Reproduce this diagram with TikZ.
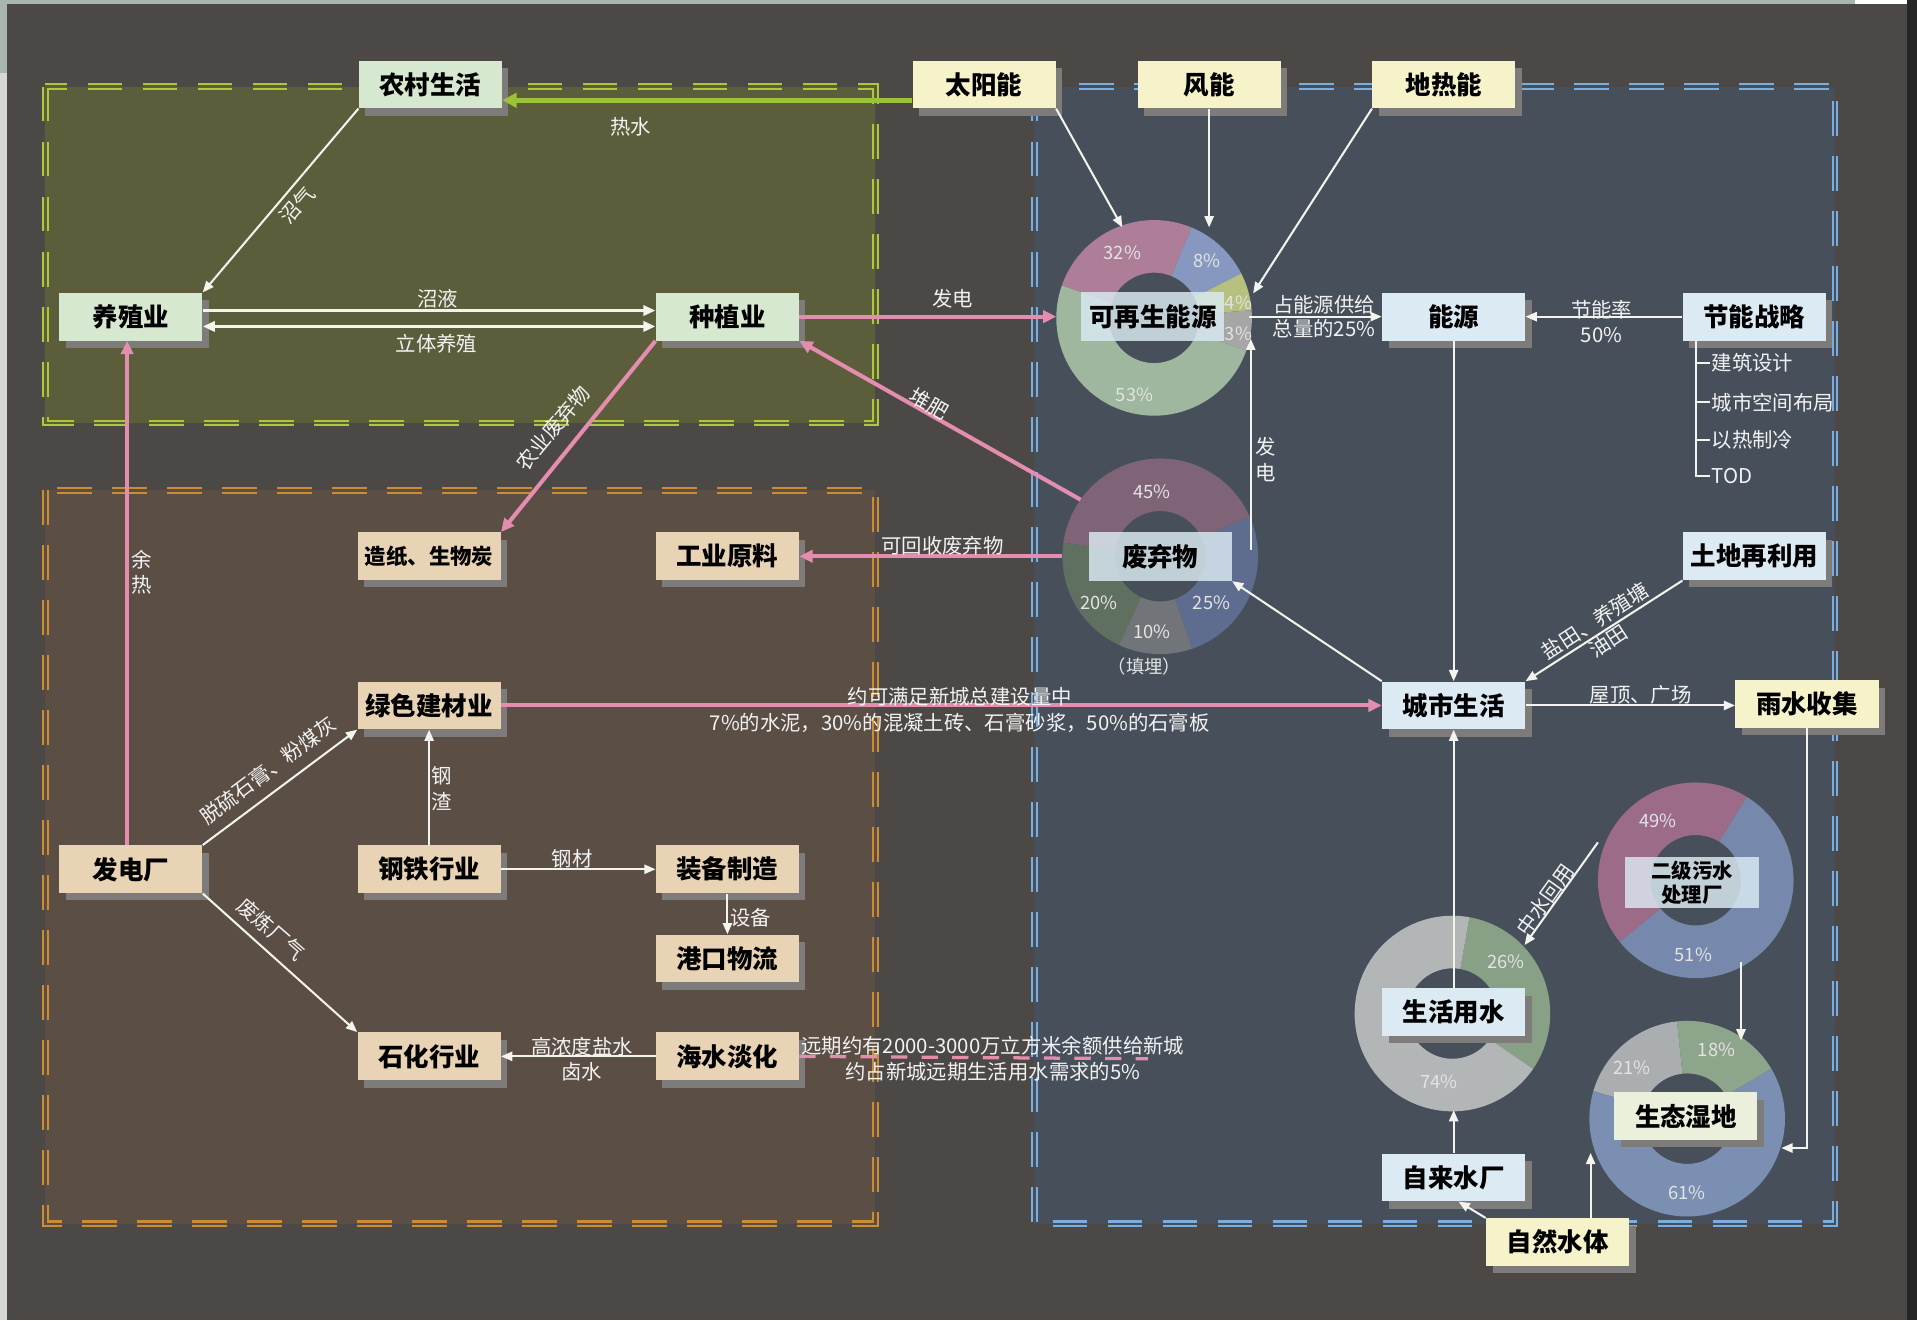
\documentclass[tikz,border=0pt]{standalone}
\usepackage{fontspec}
\setmainfont{Noto Sans CJK SC}
\usetikzlibrary{arrows.meta,shadows,calc}
\definecolor{bgc}{HTML}{4C4846}
\definecolor{stripc}{HTML}{A9B6AE}
\definecolor{leftc}{HTML}{D5D8D5}
\definecolor{greenfill}{HTML}{5C5E3B}
\definecolor{greenedge}{HTML}{ADC83A}
\definecolor{brownfill}{HTML}{5A4E45}
\definecolor{brownedge}{HTML}{CC8C33}
\definecolor{bluefill}{HTML}{47505A}
\definecolor{blueedge}{HTML}{7AADE0}
\definecolor{boxgreen}{HTML}{D6E8D0}
\definecolor{boxyellow}{HTML}{F6F3CB}
\definecolor{boxblue}{HTML}{DCEBF3}
\definecolor{boxtan}{HTML}{E9D3B5}
\definecolor{boxwet}{HTML}{EAF0DC}
\definecolor{shadowc}{HTML}{7E7C7A}
\definecolor{linew}{HTML}{F4F4EE}
\definecolor{pinkc}{HTML}{E58DAE}
\definecolor{limec}{HTML}{9CC23A}
\definecolor{lblc}{HTML}{F2F2F2}
\definecolor{pctc}{HTML}{E3E3E3}
\definecolor{dApink}{HTML}{AE7D97}
\definecolor{dAblue}{HTML}{8798C0}
\definecolor{dAyg}{HTML}{B6C07F}
\definecolor{dAgray}{HTML}{A6A6A6}
\definecolor{dAgreen}{HTML}{9EB79E}
\definecolor{dBpink}{HTML}{7F6376}
\definecolor{dBblue}{HTML}{5E6D8F}
\definecolor{dBgray}{HTML}{717579}
\definecolor{dBgreen}{HTML}{5F7061}
\definecolor{dCpink}{HTML}{9B6B88}
\definecolor{dCblue}{HTML}{7689AD}
\definecolor{dDgray}{HTML}{B3B6B7}
\definecolor{dDgreen}{HTML}{87A086}
\definecolor{dEgreen}{HTML}{8DA68B}
\definecolor{dEgray}{HTML}{AAAEB0}
\definecolor{dEblue}{HTML}{7B8FB3}
\newcommand\dseg[4]{\fill[#4] ([shift={(#2:48pt)}]#1) arc[start angle=#2, end angle=#3, radius=48pt] -- ([shift={(#3:22.2pt)}]#1) arc[start angle=#3, end angle=#2, radius=22.2pt] -- cycle;}
\begin{document}
\begin{tikzpicture}[x=0.6pt,y=-0.6pt,
  box/.style={minimum width=70.2pt, minimum height=23.4pt, inner sep=1pt, text=black,
    font=\bfseries\fontsize{12.5}{14}\selectfont,
    drop shadow={shadow xshift=3.2pt, shadow yshift=-3.6pt, fill=shadowc, opacity=1}},
  gbox/.style={box, fill=boxgreen},
  ybox/.style={box, fill=boxyellow},
  bbox/.style={box, fill=boxblue},
  tbox/.style={box, fill=boxtan},
  glass/.style={minimum width=70.2pt, minimum height=24pt, inner sep=1pt, fill=boxblue,
    fill opacity=0.82, text opacity=1, text=black, font=\bfseries\fontsize{12.5}{14}\selectfont},
  lbl/.style={text=lblc, font=\fontsize{10}{12}\selectfont, inner sep=0.5pt, align=center},
  pct/.style={text=pctc, font=\fontsize{9}{10}\selectfont, inner sep=0pt},
  treetxt/.style={text=lblc, font=\fontsize{10}{12}\selectfont, inner sep=0.5pt, anchor=west},
  wl/.style={draw=linew, line width=1pt, -{Triangle[length=5.5pt,width=4.5pt]}},
  wthick/.style={draw=linew, line width=1.6pt},
  pl/.style={draw=pinkc, line width=2pt, -{Triangle[length=6.5pt,width=6pt]}},
  ll/.style={draw=limec, line width=2.6pt, -{Triangle[length=7pt,width=7pt]}},
  region/.style={line width=1pt, double distance=1.3pt, dash pattern=on 17pt off 10pt}
]
\useasboundingbox (0,0) rectangle (1568,1080);
% background and screenshot edges
\fill[bgc] (0,0) rectangle (1568,1080);
\fill[leftc] (0,0) rectangle (5.5,1080);
\fill[stripc] (0,0) rectangle (6,60);
\fill[stripc] (0,0) rectangle (1517,3.3);
\fill[white] (1517,0) rectangle (1560,3.3);
\fill[black!85] (1560,0) rectangle (1568,1080);
% regions
\draw[region, fill=greenfill, draw=greenedge, double=greenfill] (37,71) rectangle (716,346);
\draw[region, fill=brownfill, draw=brownedge, double=brownfill] (37,401) rectangle (716,1001);
\draw[region, fill=bluefill, draw=blueedge, double=bluefill] (846,71) rectangle (1501,1001);
% donut centres
\coordinate (c1) at (944,260);
\coordinate (c2) at (949,455);
\coordinate (c3) at (1387,720);
\coordinate (c4) at (1188,829);
\coordinate (c5) at (1380,915);
% donut 1: renewable energy
\dseg{c1}{67.5}{160.7}{dApink}
\dseg{c1}{27}{67.5}{dAblue}
\dseg{c1}{4.5}{27}{dAyg}
\dseg{c1}{-19.6}{4.5}{dAgray}
\dseg{c1}{160.7}{340.4}{dAgreen}
% donut 2: waste
\dseg{c2}{24}{172}{dBpink}
\dseg{c2}{-71}{24}{dBblue}
\dseg{c2}{-115}{-71}{dBgray}
\dseg{c2}{172}{245}{dBgreen}
% donut 3: sewage plant
\dseg{c3}{58.5}{219}{dCpink}
\dseg{c3}{219}{418.5}{dCblue}
% donut 4: domestic water
\dseg{c4}{-34.5}{80}{dDgreen}
\dseg{c4}{80}{325.5}{dDgray}
% donut 5: wetland
\dseg{c5}{30.7}{96}{dEgreen}
\dseg{c5}{96}{163.6}{dEgray}
\dseg{c5}{163.6}{390.7}{dEblue}
% percentage labels
\node[pct] (p1a) at (918,207) {32\%};
\node[pct] (p1b) at (987,213) {8\%};
\node[pct] (p1c) at (1013,248) {4\%};
\node[pct] (p1d) at (1013,273) {3\%};
\node[pct] (p1e) at (928,323) {53\%};
\node[pct] (p2a) at (942,402) {45\%};
\node[pct] (p2b) at (899,493) {20\%};
\node[pct] (p2c) at (942,517) {10\%};
\node[pct] (p2d) at (991,493) {25\%};
\node[pct] (p2e) at (936,545) {（填埋）};
\node[pct] (p3a) at (1356,671) {49\%};
\node[pct] (p3b) at (1385,781) {51\%};
\node[pct] (p4a) at (1232,787) {26\%};
\node[pct] (p4b) at (1177,885) {74\%};
\node[pct] (p5a) at (1335,873) {21\%};
\node[pct] (p5b) at (1404,859) {18\%};
\node[pct] (p5c) at (1380,976) {61\%};
% boxes: agriculture
\node[gbox] (nc) at (352,69) {农村生活};
\node[gbox] (yz) at (107,259) {养殖业};
\node[gbox] (zz) at (595,259) {种植业};
% boxes: sources
\node[ybox] (ty) at (805,69) {太阳能};
\node[ybox] (fn) at (989,69) {风能};
\node[ybox] (dr) at (1181,69) {地热能};
\node[ybox] (ys) at (1478,576) {雨水收集};
\node[ybox] (zr) at (1274,1016) {自然水体};
% boxes: city
\node[glass] (kz) at (943,259) {可再生能源};
\node[bbox] (ny) at (1189,259) {能源};
\node[bbox] (jn) at (1435,259) {节能战略};
\node[glass] (fq) at (949,455) {废弃物};
\node[bbox] (td) at (1435,455) {土地再利用};
\node[bbox] (cs) at (1189,577) {城市生活};
\node[glass, minimum width=66pt, minimum height=25.2pt, align=center, font=\bfseries\fontsize{10}{11.5}\selectfont] (ej) at (1384,722) {二级污水\\处理厂};
\node[bbox] (sh) at (1189,828) {生活用水};
\node[box, fill=boxwet] (st) at (1379,913) {生态湿地};
\node[bbox] (zl) at (1189,963) {自来水厂};
% boxes: industry
\node[tbox, font=\bfseries\fontsize{10.5}{12}\selectfont] (zx) at (351,455) {造纸、生物炭};
\node[tbox] (gy) at (595,455) {工业原料};
\node[tbox] (ls) at (351,577) {绿色建材业};
\node[tbox] (fd) at (107,711) {发电厂};
\node[tbox] (gt) at (351,711) {钢铁行业};
\node[tbox] (zb) at (595,711) {装备制造};
\node[tbox] (gk) at (595,784) {港口物流};
\node[tbox] (sz) at (351,864) {石化行业};
\node[tbox] (hs) at (595,864) {海水淡化};
% free connector ends
\coordinate (c1w) at (864,259);
\coordinate (tyend) at (918,186);
\coordinate (fnend) at (989,186);
\coordinate (drend) at (1025,240);
\coordinate (kze) at (1022,259);
\coordinate (fqn) at (1023,450);
\coordinate (kzs) at (1023,277);
\coordinate (stin) at (1457,939);
\coordinate (ejb) at (1424,787);
\coordinate (stt) at (1424,851);
\coordinate (ejw) at (1307,689);
\coordinate (shn) at (1247,773);
\coordinate (shb) at (1189,908);
\coordinate (zrn) at (1301,996);
\coordinate (stb) at (1301,943);
\coordinate (hse) at (939,866);
\coordinate (t0) at (1387,279);
% connectors: agriculture
\draw[ll] ([yshift=-7.8pt]ty.west) -- ([yshift=-7.8pt]nc.east);
\draw[wl] (nc.south west) -- (yz.north east);
\draw[wthick, -{Triangle[length=6pt,width=5pt]}] ([yshift=3pt]yz.east) -- ([yshift=3pt]zz.west);
\draw[wthick, {Triangle[length=6pt,width=5pt]}-{Triangle[length=6pt,width=5pt]}] ([yshift=-4.8pt]yz.east) -- ([yshift=-4.8pt]zz.west);
\draw[pl] (zz.east) -- (c1w);
\draw[pl] ([shift={(144.6:48pt)}]c2) -- (zz.south east);
\draw[pl] (zz.south west) -- (zx.north east);
\draw[pl] ([xshift=-1.8pt]fd.north) -- ([xshift=-1.8pt]yz.south);
\draw[pl] ([shift={(180:48pt)}]c2) -- (gy.east);
% connectors: energy
\draw[wl] (ty.south east) -- (tyend);
\draw[wl] (fn.south) -- (fnend);
\draw[wl] (dr.south west) -- (drend);
\draw[wl] (fqn) -- (kzs);
\draw[wl] (kze) -- (ny.west);
\draw[wl] (jn.west) -- (ny.east);
\node[treetxt] (tx1) at (1399,297) {建筑设计};
\node[treetxt] (tx2) at (1399,329) {城市空间布局};
\node[treetxt] (tx3) at (1399,360) {以热制冷};
\node[treetxt] (tx4) at (1399,389) {TOD};
\draw[linew, line width=1pt] (t0) |- (tx4.west);
\draw[linew, line width=1pt] (t0 |- tx1.west) -- (tx1.west);
\draw[linew, line width=1pt] (t0 |- tx2.west) -- (tx2.west);
\draw[linew, line width=1pt] (t0 |- tx3.west) -- (tx3.west);
% connectors: city
\draw[wl] (ny.south) -- (cs.north);
\draw[wl] (cs.north west) -- (fq.south east);
\draw[wl] (td.south west) -- (cs.north east);
\draw[wl] (cs.east) -- (cs.east -| ys.west);
\draw[wl] (ys.south) |- (stin);
\draw[wl] (ejb) -- (stt);
\draw[wl] (ejw) -- (shn);
\draw[wl] (sh.north) -- (cs.south);
\draw[wl] (zl.north) -- (shb);
\draw[wl] (zr.north west) -- ([xshift=2.4pt]zl.south);
\draw[wl] (zrn) -- (stb);
% connectors: industry
\draw[wl] (fd.north east) -- (ls.south west);
\draw[wl] (fd.south east) -- (sz.north west);
\draw[wl] (gt.north) -- (ls.south);
\draw[wl] (gt.east) -- (zb.west);
\draw[wl] (zb.south) -- (gk.north);
\draw[wl] (hs.west) -- (sz.east);
\draw[pl] (ls.east) -- (cs.west);
\draw[pinkc, line width=1.6pt, dash pattern=on 8pt off 7pt] (hs.east) -- (hse);
% connector labels
\node[lbl] (lrs) at (516,104) {热水};
\node[lbl, rotate=49.7] (lzq) at (243,168) {沼气};
\node[lbl] (lzy) at (358,244) {沼液};
\node[lbl] (llt) at (357,281) {立体养殖};
\node[lbl] (lfa) at (779,244) {发电};
\node[lbl, rotate=-29.6] (ldf) at (760,330) {堆肥};
\node[lbl, rotate=50.5] (lny) at (452,350) {农业废弃物};
\node[lbl, font=\fontsize{10}{12.6}\selectfont] (lyr) at (116,468) {余\\热};
\node[lbl] (lhs) at (771,446) {可回收废弃物};
\node[lbl, font=\fontsize{10}{12.6}\selectfont] (lfb) at (1035,376) {发\\电};
\node[lbl] (lzn) at (1083,259) {占能源供给\\总量的25\%};
\node[lbl] (ljn) at (1310,263) {节能率\\50\%};
\node[lbl, rotate=33] (lyt) at (1310,516) {盐田、养殖塘\\油田};
\node[lbl] (lwd) at (1342,568) {屋顶、广场};
\node[lbl, rotate=54.5] (lzs) at (1264,736) {中水回用};
\node[lbl, rotate=36.8] (ltl) at (219,630) {脱硫石膏、粉煤灰};
\node[lbl, rotate=-41] (lfl) at (222,760) {废炼厂气};
\node[lbl, font=\fontsize{10}{12.6}\selectfont] (lgz) at (361,645) {钢\\渣};
\node[lbl] (lgc) at (468,702) {钢材};
\node[lbl] (lsb) at (614,751) {设备};
\node[lbl] (lgn) at (476,856) {高浓度盐水};
\node[lbl] (llj) at (476,877) {卤水};
\node[lbl] (lja) at (785,570) {约可满足新城总建设量中};
\node[lbl] (ljb) at (785,591) {7\%的水泥，30\%的混凝土砖、石膏砂浆，50\%的石膏板};
\node[lbl] (lha) at (812,855) {远期约有2000-3000万立方米余额供给新城};
\node[lbl] (lhb) at (812,877) {约占新城远期生活用水需求的5\%};
\end{tikzpicture}
\end{document}
